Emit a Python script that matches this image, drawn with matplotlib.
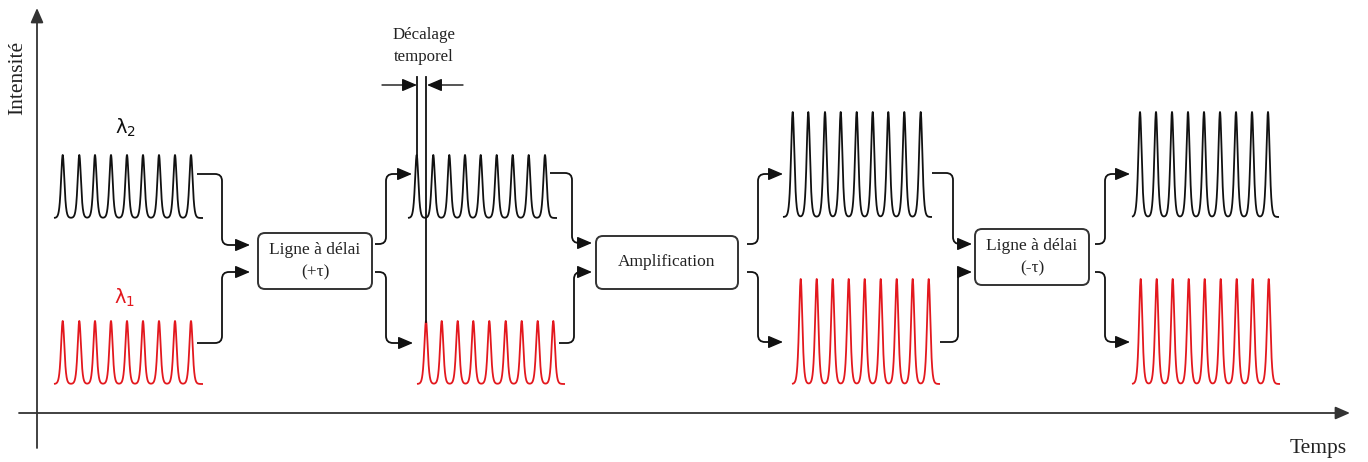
import numpy as np
import matplotlib.pyplot as plt
from matplotlib.path import Path
from matplotlib.patches import PathPatch, FancyBboxPatch

# Positions des impulsions (pixels)
black_in = [62.7, 79.3, 95, 111, 127, 143, 159, 175, 191]
red_in = [62.7, 79.3, 95, 111, 127, 143, 159, 175, 191]
black_delay = [416.7, 433.3, 449.3, 465, 480.7, 496.7, 512.7, 528.7, 545]
red_delay = [426, 441.7, 457.7, 473.3, 489.3, 505.7, 521.7, 537.7, 553.3]
black_amp = [792.7, 808.3, 825, 840.7, 856.7, 872.7, 888.3, 904.3, 920.7]
red_amp = [800.7, 816.7, 832.7, 848.7, 864.7, 880.7, 896.7, 912.7, 928.7]
black_out = [1140, 1156, 1172, 1188, 1204, 1220, 1236, 1252, 1268]
red_out = [1140.7, 1156.7, 1172.7, 1188.7, 1204.7, 1220.7, 1236.7, 1252.7, 1268.7]

# Hauteurs des impulsions
h_low = 63
h_high = 105

black = '#111111'
red = '#e3181e'
grey = '#333333'

serif = ['Liberation Serif', 'DejaVu Serif']


def pulseTrain(ax, centers, x0, x1, base, height, color):
    #Dessine un train d'impulsions
    x = np.linspace(x0, x1, 1500)
    y = np.zeros_like(x)
    for c in centers:
        y += 1 / np.cosh((x - c) / 2.2) ** 2
    ax.plot(x, base - height * y, color=color, lw=1.3, solid_capstyle='butt')


def elbow(ax, pts, r=7, arrow=True):
    #Ligne avec coins arrondis et fleche a la fin
    verts = [pts[0]]
    codes = [Path.MOVETO]
    for i in range(1, len(pts) - 1):
        p0, p1, p2 = np.array(pts[i - 1]), np.array(pts[i]), np.array(pts[i + 1])
        d1 = (p1 - p0) / np.linalg.norm(p1 - p0)
        d2 = (p2 - p1) / np.linalg.norm(p2 - p1)
        verts += [tuple(p1 - d1 * r), tuple(p1), tuple(p1 + d2 * r)]
        codes += [Path.LINETO, Path.CURVE3, Path.CURVE3]
    end = np.array(pts[-1])
    if arrow:
        end = end - np.array([8, 0])
    verts.append(tuple(end))
    codes.append(Path.LINETO)
    ax.add_patch(PathPatch(Path(verts, codes), fill=False, ec=black, lw=1.3))
    if arrow:
        ax.annotate('', xy=pts[-1], xytext=tuple(end),
                    arrowprops=dict(arrowstyle='-|>,head_length=0.75,head_width=0.32',
                                    color=black, lw=1.0, shrinkA=0, shrinkB=0,
                                    mutation_scale=12))


def box(ax, x0, y0, x1, y1, lines):
    #Boite arrondie avec texte
    ax.add_patch(FancyBboxPatch((x0, y0), x1 - x0, y1 - y0,
                                boxstyle='round,pad=0,rounding_size=7',
                                fc='white', ec=grey, lw=1.4))
    for (txt, yy) in lines:
        ax.text((x0 + x1) / 2, yy, txt, ha='center', va='center',
                family=serif, fontsize=12.5, color='#222222')


fig = plt.figure(figsize=(13.68, 4.62), dpi=100)
ax = fig.add_axes([0, 0, 1, 1])
ax.set_xlim(0, 1368)
ax.set_ylim(462, 0)
ax.axis('off')

#Axes du graphique
ax.annotate('', xy=(37, 8), xytext=(37, 448),
            arrowprops=dict(arrowstyle='-|>,head_length=0.8,head_width=0.35',
                            color=grey, lw=1.3, shrinkA=0, shrinkB=0, mutation_scale=11))
ax.annotate('', xy=(1350, 413), xytext=(19, 413),
            arrowprops=dict(arrowstyle='-|>,head_length=0.8,head_width=0.35',
                            color=grey, lw=1.3, shrinkA=0, shrinkB=0, mutation_scale=11))
ax.text(18, 78, 'Intensité', rotation=90, ha='center', va='center',
        family=serif, fontsize=15.5, color='#222222')
ax.text(1318, 449, 'Temps', ha='center', va='center',
        family=serif, fontsize=15.5, color='#222222')

#Trains d'impulsions
pulseTrain(ax, black_in, 54, 203, 218, h_low, black)
pulseTrain(ax, red_in, 54, 203, 384, h_low, red)
pulseTrain(ax, black_delay, 408, 557, 218, h_low, black)
pulseTrain(ax, red_delay, 417, 565, 384, h_low, red)
pulseTrain(ax, black_amp, 783, 932, 217, h_high, black)
pulseTrain(ax, red_amp, 792, 940, 384, h_high, red)
pulseTrain(ax, black_out, 1132, 1279, 217, h_high, black)
pulseTrain(ax, red_out, 1132, 1280, 384, h_high, red)

ax.text(125, 128, 'λ$_{2}$', ha='center', va='center', fontsize=14, color=black,
        family=['DejaVu Sans'])
ax.text(125, 298, 'λ$_{1}$', ha='center', va='center', fontsize=14, color=red,
        family=['DejaVu Sans'])

#Boites
box(ax, 258, 233, 372, 289, [('Ligne à délai', 250), ('(+τ)', 272)])
box(ax, 596, 236, 738, 289, [('Amplification', 262)])
box(ax, 975, 229, 1089, 285, [('Ligne à délai', 246), ('(-τ)', 268)])

#Connexions
elbow(ax, [(197, 174), (222, 174), (222, 245), (250, 245)])
elbow(ax, [(197, 343), (222, 343), (222, 272), (250, 272)])
elbow(ax, [(375, 244), (386, 244), (386, 174), (412, 174)])
elbow(ax, [(375, 272), (386, 272), (386, 343), (413, 343)])
elbow(ax, [(550, 173), (572, 173), (572, 243), (592, 243)])
elbow(ax, [(559, 343), (574, 343), (574, 272), (592, 272)])
elbow(ax, [(747, 244), (758, 244), (758, 174), (783, 174)])
elbow(ax, [(747, 272), (758, 272), (758, 342), (783, 342)])
elbow(ax, [(932, 173), (953, 173), (953, 244), (972, 244)])
elbow(ax, [(940, 342), (958, 342), (958, 272), (972, 272)])
elbow(ax, [(1095, 244), (1105, 244), (1105, 174), (1130, 174)])
elbow(ax, [(1095, 272), (1105, 272), (1105, 342), (1130, 342)])

#Decalage temporel
ax.plot([417, 417], [77, 156], color=black, lw=1.3)
ax.plot([426, 426], [77, 322], color=black, lw=1.3)
ax.annotate('', xy=(417, 85), xytext=(382, 85),
            arrowprops=dict(arrowstyle='-|>,head_length=0.75,head_width=0.32',
                            color=black, lw=1.0, shrinkA=0, shrinkB=0, mutation_scale=12))
ax.annotate('', xy=(427, 85), xytext=(463, 85),
            arrowprops=dict(arrowstyle='-|>,head_length=0.75,head_width=0.32',
                            color=black, lw=1.0, shrinkA=0, shrinkB=0, mutation_scale=12))
ax.text(424, 35, 'Décalage', ha='center', va='center', family=serif,
        fontsize=12.2, color='#222222')
ax.text(424, 57, 'temporel', ha='center', va='center', family=serif,
        fontsize=12.2, color='#222222')

plt.savefig('out.png', dpi=100)
